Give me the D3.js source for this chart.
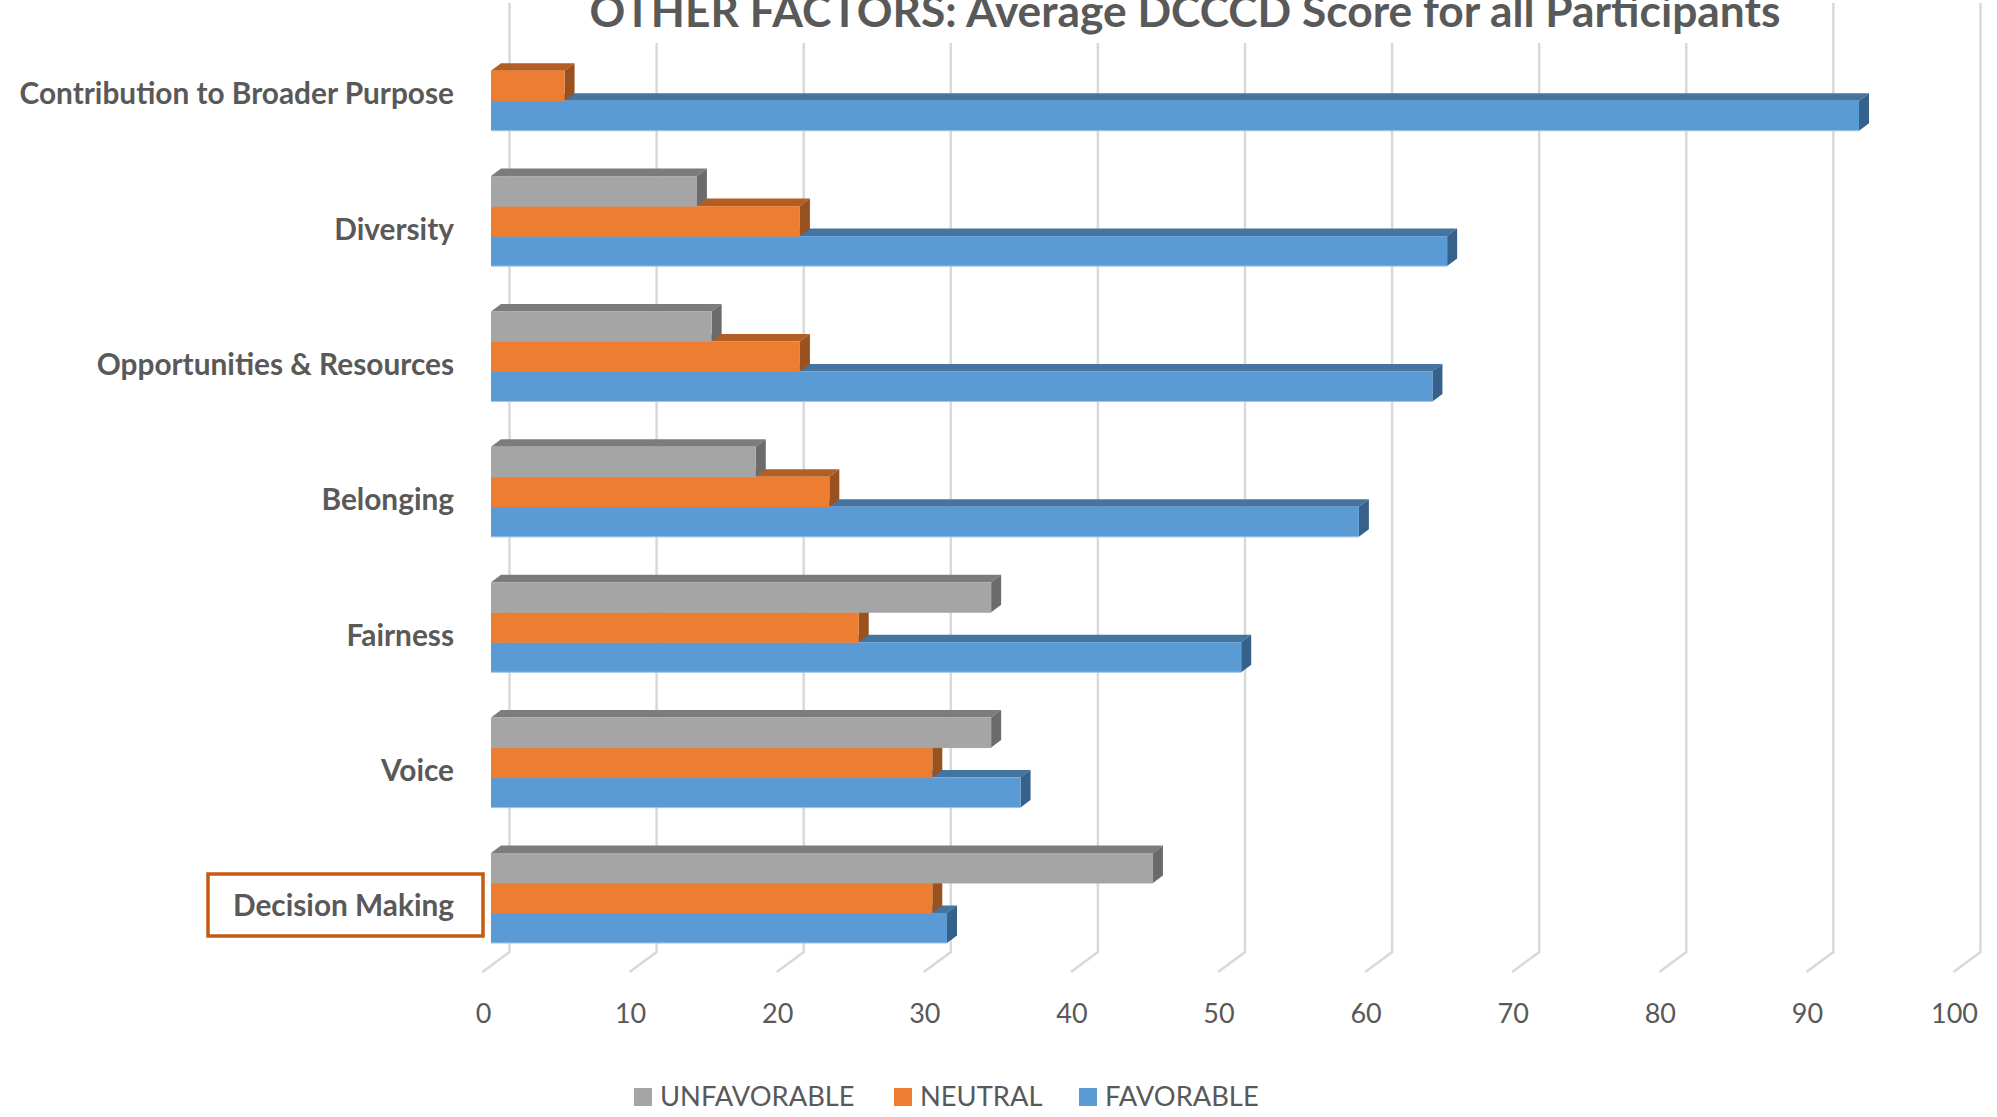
<!DOCTYPE html>
<html>
<head>
<meta charset="utf-8">
<script src="https://cdn.jsdelivr.net/npm/d3@7"></script>
<style>
  html, body { margin: 0; padding: 0; background: #fff; }
  svg { display: block; }
  text { font-family: Lato, "Noto Sans", sans-serif; fill: #595959; }
</style>
</head>
<body>
<script>
const categories = ['Contribution to Broader Purpose', 'Diversity', 'Opportunities & Resources',
  'Belonging', 'Fairness', 'Voice', 'Decision Making'];
const favorable = [93, 65, 64, 59, 51, 36, 31];
const neutral = [5, 21, 21, 23, 25, 30, 30];
const unfavorable = [null, 14, 15, 18, 34, 34, 45];
const xTicks = [0, 10, 20, 30, 40, 50, 60, 70, 80, 90, 100];
const legendLabels = ['UNFAVORABLE', 'NEUTRAL', 'FAVORABLE'];

const width = 1997;
const height = 1117;

// 3D look: every bar gets a top and a side face
const depthX = 10;
const depthY = 7.5;

const svg = d3.select('body').append('svg')
  .attr('width', width)
  .attr('height', height);

const x = d3.scaleLinear().domain([0, 100]).range([491, 1962]);
const y = d3.scaleBand().domain(categories).range([40.7, 943]).paddingInner(0.335);
const slot = d3.scaleBand().domain([0, 1, 2]).range([0, y.bandwidth()]);

// Back wall grid with the little floor stroke at the bottom
svg.append('g')
  .selectAll('path')
  .data(xTicks)
  .join('path')
  .attr('d', d => `M${x(d) + 18.5},3V952L${x(d) - 8.5},972`)
  .attr('fill', 'none')
  .attr('stroke', '#d9d9d9')
  .attr('stroke-width', 2.5);

// Title sits on a white box that hides the top of the grid
svg.append('rect')
  .attr('x', 570)
  .attr('y', 0)
  .attr('width', 1240)
  .attr('height', 43)
  .attr('fill', '#fff');

svg.append('text')
  .attr('x', 1185)
  .attr('y', 27)
  .attr('text-anchor', 'middle')
  .style('font-size', '44.3px')
  .style('font-weight', 'bold')
  .text('OTHER FACTORS: Average DCCCD Score for all Participants');

const series = [
  { name: 'FAVORABLE', values: favorable, row: 2, front: '#5b9bd5', top: '#44749f', side: '#36618a', edge: '#9dc3e6' },
  { name: 'NEUTRAL', values: neutral, row: 1, front: '#ed7d31', top: '#b25e25', side: '#9a5120', edge: '#ed7d31' },
  { name: 'UNFAVORABLE', values: unfavorable, row: 0, front: '#a5a5a5', top: '#7c7c7c', side: '#6b6b6b', edge: '#a5a5a5' }
];

// Drawn back to front so the nearer bar covers the cap of the one below it
const groups = svg.append('g')
  .selectAll('g')
  .data(categories)
  .join('g')
  .attr('transform', d => `translate(0,${y(d)})`);

groups.each(function(cat, i) {
  const group = d3.select(this);
  series.forEach(s => {
    const v = s.values[i];
    if (v === null) return;
    const x0 = x(0);
    const x1 = x(v);
    const y0 = slot(s.row);
    const y1 = y0 + slot.bandwidth();

    group.append('path')
      .attr('d', `M${x0},${y0}L${x0 + depthX},${y0 - depthY}H${x1 + depthX}L${x1},${y0}Z`)
      .attr('fill', s.top);
    group.append('path')
      .attr('d', `M${x1},${y0}L${x1 + depthX},${y0 - depthY}V${y1 - depthY}L${x1},${y1}Z`)
      .attr('fill', s.side);
    group.append('rect')
      .attr('x', x0)
      .attr('y', y0)
      .attr('width', x1 - x0)
      .attr('height', y1 - y0)
      .attr('fill', s.front);
    group.append('path')
      .attr('d', `M${x0},${y1}H${x1}`)
      .attr('stroke', s.edge)
      .attr('stroke-width', 1);
  });
});

// Category labels
svg.append('g')
  .selectAll('text')
  .data(categories)
  .join('text')
  .attr('x', 454)
  .attr('y', d => y(d) + 63.5)
  .attr('text-anchor', 'end')
  .style('font-size', '29.8px')
  .style('font-weight', 'bold')
  .text(d => d);

// Highlight box round the last label
svg.append('rect')
  .attr('x', 208)
  .attr('y', 879 - 5)
  .attr('width', 275)
  .attr('height', 62)
  .attr('fill', 'none')
  .attr('stroke', '#c55a11')
  .attr('stroke-width', 3.5);

// Value axis
const axis = svg.append('g')
  .attr('transform', 'translate(-8,1004)')
  .call(d3.axisBottom(x).tickValues(xTicks).tickSize(0).tickPadding(0));
axis.select('.domain').remove();
axis.selectAll('text')
  .style('font-size', '27px')
  .style('font-family', 'Lato, "Noto Sans", sans-serif')
  .style('fill', '#595959');

// Legend
const legendStart = { UNFAVORABLE: 634, NEUTRAL: 894, FAVORABLE: 1079 };
const legendColors = { UNFAVORABLE: '#a5a5a5', NEUTRAL: '#ed7d31', FAVORABLE: '#5b9bd5' };

const legend = svg.append('g')
  .selectAll('g')
  .data(legendLabels)
  .join('g')
  .attr('transform', d => `translate(${legendStart[d]},1088)`);

legend.append('rect')
  .attr('width', 18)
  .attr('height', 18)
  .attr('fill', d => legendColors[d]);

legend.append('text')
  .attr('x', 26)
  .attr('y', 18)
  .style('font-size', '27.3px')
  .text(d => d);
</script>
</body>
</html>
